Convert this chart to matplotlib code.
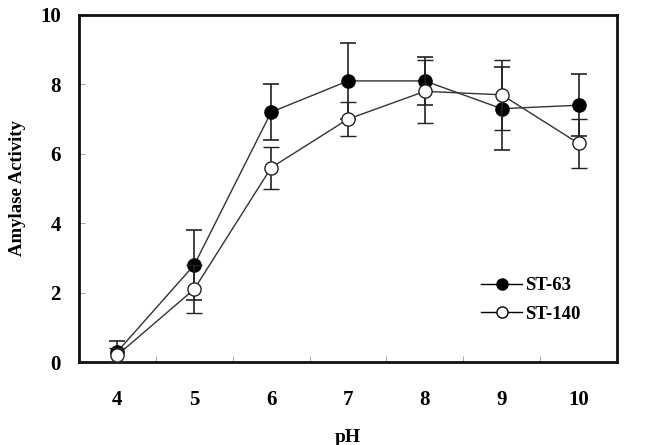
import numpy as np
import matplotlib
matplotlib.use("Agg")
from matplotlib import pyplot as plt
from matplotlib.lines import Line2D

# pH values and activity
ph = [4, 5, 6, 7, 8, 9, 10]
st63 = [0.3, 2.8, 7.2, 8.1, 8.1, 7.3, 7.4]
st63_err = [0.3, 1.0, 0.8, 1.1, 0.7, 1.2, 0.9]
st140 = [0.2, 2.1, 5.6, 7.0, 7.8, 7.7, 6.3]
st140_err = [0.2, 0.7, 0.6, 0.5, 0.9, 1.0, 0.7]
names = ["ST-63", "ST-140"]

plt.rcParams['font.family'] = ['Liberation Serif', 'DejaVu Serif']
plt.rcParams['font.weight'] = 'bold'

fig = plt.figure(figsize=(6.72, 4.45), dpi=100)
ax = fig.add_axes([79/672, 1-362/445, (617-79)/672, (362-15)/445])

col = '#333333'
ax.errorbar(ph, st63, yerr=st63_err, fmt='-o', color=col, mfc='black', mec='black',
            ms=9.5, lw=1.0, ecolor='#222222', elinewidth=1.2, capsize=5.5, capthick=1.2, zorder=3)
ax.errorbar(ph, st140, yerr=st140_err, fmt='-o', color=col, mfc='white', mec='#222222',
            ms=9.5, mew=1.0, lw=1.0, ecolor='#222222', elinewidth=1.2, capsize=5.5, capthick=1.2, zorder=4)

ax.set_xlim(3.5, 10.5)
ax.set_ylim(0, 10)
ax.set_xticks(ph)
ax.set_xticklabels([str(p) for p in ph])
ax.set_xticks(np.arange(4.5, 10.5, 1), minor=True)
ax.tick_params(axis='x', which='major', length=0, pad=20, labelsize=15)
ax.tick_params(axis='x', which='minor', direction='in', length=4, width=0.6, color='#999999')
ax.set_yticks([0, 2, 4, 6, 8, 10])
ax.tick_params(axis='y', direction='in', length=4, width=0.6, color='#999999', pad=13, labelsize=15)
for s in ax.spines.values():
    s.set_linewidth(2.0)
    s.set_color('#111111')

ax.set_xlabel('pH', fontsize=14, fontweight='bold', labelpad=14)
ax.set_ylabel('Amylase Activity', fontsize=13.5, fontweight='bold', labelpad=10)

handles = [Line2D([], [], color='black', lw=1.0, marker='o', ms=8, mfc='black', mec='black'),
           Line2D([], [], color='black', lw=1.0, marker='o', ms=8, mfc='white', mec='black')]
ax.legend(handles, names, loc='lower left', bbox_to_anchor=(0.716, 0.065), frameon=False,
          prop={'size': 13.5, 'weight': 'bold'}, handlelength=2.2, handletextpad=0.15, labelspacing=0.6)

fig.savefig('out.png', dpi=100)
